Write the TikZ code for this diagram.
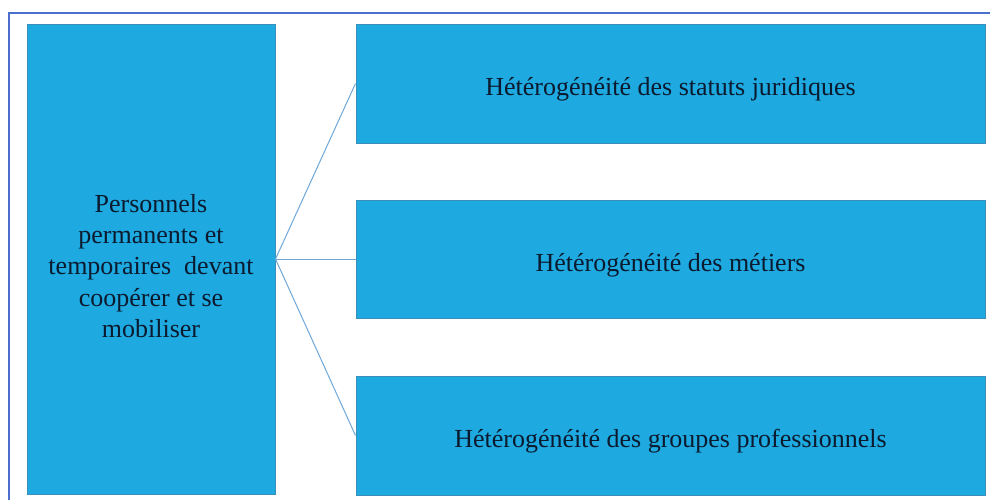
\documentclass[tikz,border=0pt]{standalone}
\usepackage{fontspec}
\setmainfont{Liberation Serif}
\definecolor{boxfill}{HTML}{1EAAE0}
\definecolor{boxline}{HTML}{3A8FB8}
\definecolor{linkc}{HTML}{6FA8D8}
\definecolor{framec}{HTML}{4A6FCF}
\definecolor{txt}{HTML}{0B1A2E}
\tikzset{
  bluebox/.style={draw=boxline, line width=1pt, fill=boxfill, inner sep=0pt},
  boxtext/.style={text=txt, align=center, font=\fontsize{26}{31.25}\selectfont, inner sep=0pt},
  link/.style={draw=linkc, line width=1pt}
}
\begin{document}
\begin{tikzpicture}[x=1pt,y=-1pt]
\useasboundingbox (0,0) rectangle (990,499);
\fill[white] (0,0) rectangle (990,499);
\draw[framec, line width=1.5pt] (9,503) -- (9,13) -- (995,13);
\node[bluebox, minimum width=248pt, minimum height=470pt] (left) at (151,259) {};
\node[bluebox, minimum width=629pt, minimum height=119pt] (top) at (670.5,83.5) {};
\node[bluebox, minimum width=629pt, minimum height=118pt] (mid) at (670.5,259) {};
\node[bluebox, minimum width=629pt, minimum height=119pt] (bot) at (670.5,435.5) {};
\node[boxtext] (lefttext) at ([yshift=-7pt]left.center)
  {Personnels\\permanents et\\temporaires\ \ devant\\coopérer et se\\mobiliser};
\node[boxtext] (toptext) at ([yshift=-6pt]top.center) {Hétérogénéité des statuts juridiques};
\node[boxtext] (midtext) at ([yshift=-6pt]mid.center) {Hétérogénéité des métiers};
\node[boxtext] (bottext) at ([yshift=-6pt]bot.center) {Hétérogénéité des groupes professionnels};
\draw[link] (left.east) -- (top.west);
\draw[link] (left.east) -- (mid.west);
\draw[link] (left.east) -- (bot.west);
\end{tikzpicture}
\end{document}
